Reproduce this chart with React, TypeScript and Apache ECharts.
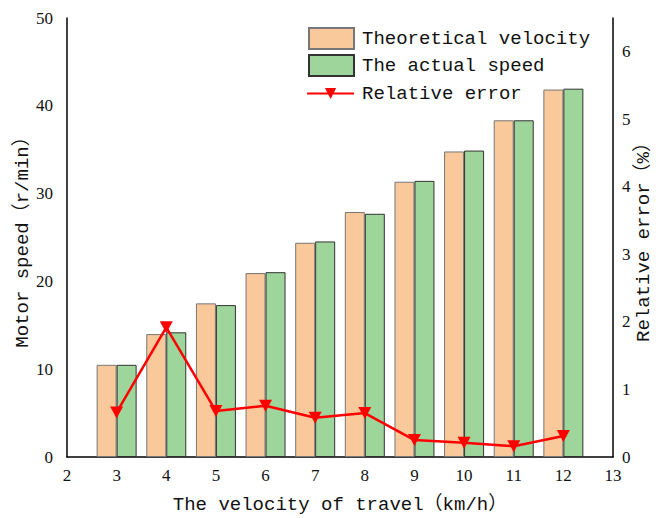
import React, { useEffect, useRef } from "react";
import * as echarts from "echarts";

const xValues = [3, 4, 5, 6, 7, 8, 9, 10, 11, 12];
const theoreticalVelocity = [10.5, 14.0, 17.5, 20.95, 24.4, 27.9, 31.35, 34.8, 38.35, 41.85];
const actualSpeed = [10.5, 14.2, 17.3, 21.05, 24.55, 27.7, 31.45, 34.9, 38.35, 41.95];
const relativeError = [0.66, 1.92, 0.68, 0.76, 0.58, 0.65, 0.25, 0.21, 0.16, 0.31];

const seriesNames = ["Theoretical velocity", "The actual speed", "Relative error"];

const MONO = "'Liberation Mono', 'Noto Sans CJK SC', monospace";
const SERIF = "'Liberation Serif', serif";

export default function App() {
  const ref = useRef<HTMLDivElement>(null);
  useEffect(() => {
    if (!ref.current) return;
    const chart = echarts.init(ref.current, undefined, { renderer: "svg" });
    const pair = (ys: number[]) => xValues.map((x, i) => [x, ys[i]]);
    const legendText = { fontFamily: MONO, fontSize: 19, color: "#111", padding: [0, 0, 0, 3] };
    chart.setOption({
      animation: false,
      backgroundColor: "#fff",
      grid: { left: 67, right: 43, top: 18, bottom: 61, outerBoundsMode: "none", containLabel: false },
      legend: [
        {
          orient: "vertical",
          left: 308,
          top: 27,
          padding: 0,
          itemWidth: 45,
          itemHeight: 21,
          itemGap: 4,
          icon: "rect",
          data: [seriesNames[0], seriesNames[1]],
          textStyle: legendText,
        },
        {
          orient: "vertical",
          left: 306,
          top: 84,
          padding: 0,
          itemWidth: 47,
          itemHeight: 14,
          data: [seriesNames[2]],
          textStyle: legendText,
          lineStyle: { width: 2.2 },
        },
      ],
      xAxis: {
        type: "value",
        min: 2,
        max: 13,
        interval: 1,
        name: "The velocity of travel（km/h）",
        nameLocation: "middle",
        nameGap: 38,
        nameTextStyle: { fontFamily: MONO, fontSize: 19, color: "#111" },
        axisLine: { show: true, lineStyle: { color: "#000", width: 1.5 } },
        axisTick: { show: false },
        splitLine: { show: false },
        axisLabel: { fontFamily: SERIF, fontSize: 17, color: "#111", margin: 10 },
      },
      yAxis: [
        {
          type: "value",
          min: 0,
          max: 50,
          interval: 10,
          name: "Motor speed（r/min）",
          nameLocation: "middle",
          nameRotate: 90,
          nameGap: 35,
          nameMoveOverlap: false,
          nameTextStyle: { fontFamily: MONO, fontSize: 19, color: "#111" },
          axisLine: { show: true, lineStyle: { color: "#000", width: 1.5 } },
          axisTick: { show: false },
          splitLine: { show: false },
          axisLabel: { fontFamily: SERIF, fontSize: 17, color: "#111", margin: 14 },
        },
        {
          type: "value",
          min: 0,
          max: 6.5,
          interval: 1,
          position: "right",
          name: "Relative error（%）",
          nameLocation: "middle",
          nameRotate: 90,
          nameGap: 21,
          nameMoveOverlap: false,
          nameTextStyle: { fontFamily: MONO, fontSize: 19, color: "#111" },
          axisLine: { show: true, lineStyle: { color: "#000", width: 1.5 } },
          axisTick: { show: false },
          splitLine: { show: false },
          axisLabel: {
            fontFamily: SERIF,
            fontSize: 17,
            color: "#111",
            margin: 9,
            formatter: (v: number) => (Number.isInteger(v) ? String(v) : ""),
          },
        },
      ],
      series: [
        {
          name: seriesNames[0],
          type: "bar",
          data: pair(theoreticalVelocity),
          barWidth: 20,
          barGap: "0%",
          itemStyle: { color: "#F9C89B", borderColor: "#777", borderWidth: 1 },
        },
        {
          name: seriesNames[1],
          type: "bar",
          data: pair(actualSpeed),
          barWidth: 20,
          barGap: "0%",
          itemStyle: { color: "#9ED59B", borderColor: "#333", borderWidth: 1 },
        },
        {
          name: seriesNames[2],
          type: "line",
          yAxisIndex: 1,
          data: pair(relativeError),
          symbol: "triangle",
          symbolRotate: 180,
          symbolSize: [13, 12],
          lineStyle: { color: "#F00", width: 2.5 },
          itemStyle: { color: "#F00" },
          z: 5,
        },
      ],
    });
    return () => chart.dispose();
  }, []);
  return (
    <div
      ref={ref}
      style={{ position: "fixed", left: 0, top: 0, width: 656, height: 518 }}
    />
  );
}
